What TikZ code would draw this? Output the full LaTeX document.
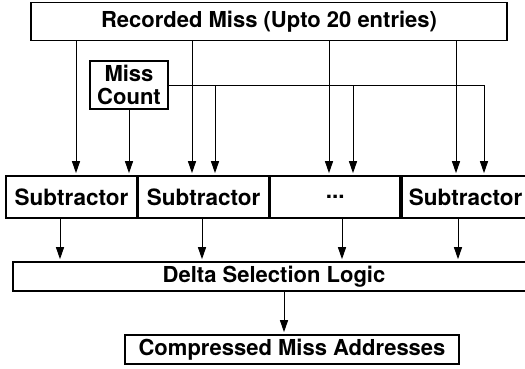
\documentclass[tikz,border=0pt]{standalone}
\usepackage{fontspec}
\setmainfont{TeX Gyre Heros}
\usetikzlibrary{arrows.meta}
\tikzset{
  blk/.style={draw, line width=1.6pt, inner sep=0pt, font=\bfseries\fontsize{22}{24}\selectfont, align=center},
  sub/.style={blk, minimum width=130pt, minimum height=42pt, font=\bfseries\fontsize{22.5}{24}\selectfont},
  arr/.style={line width=1pt, -{Triangle[width=8pt,length=12pt]}, shorten >=2pt}
}
\begin{document}
\begin{tikzpicture}[x=1pt,y=-1pt]
\clip (0,0) rectangle (525,368);
% memory of recorded misses
\node[blk, minimum width=476pt, minimum height=38pt] (top) at (269,21.5) {Recorded Miss (Upto 20 entries)};
\node[blk, minimum width=78pt, minimum height=48pt, font=\bfseries\fontsize{22}{23}\selectfont] (cnt) at (129,85) {Miss\\Count};
% row of subtractors
\node[sub, minimum width=131pt] (s1) at (71.5,197) {Subtractor};
\node[sub, anchor=west] (s2) at (s1.east) {Subtractor};
\node[sub, anchor=west] (s3) at (s2.east) {...};
\node[sub, anchor=west, minimum width=140pt, text width=130pt, align=left] (s4) at (s3.east) {\hspace*{2pt}Subtractor};
% selection and output
\node[blk, minimum width=522pt, minimum height=29pt] (delta) at (274,276.5) {Delta Selection Logic};
\node[blk, minimum width=334pt, minimum height=29pt] (out) at (292,349.5) {Compressed Miss Addresses};
% column positions of the input wires
\coordinate (a1) at (76,0);
\coordinate (a2) at (192,0);
\coordinate (a3) at (329,0);
\coordinate (a4) at (456,0);
\coordinate (b2) at (215,0);
\coordinate (b3) at (353,0);
\coordinate (b4) at (484,0);
\coordinate (o1) at (60,0);
\coordinate (o2) at (202,0);
\coordinate (o3) at (342,0);
\coordinate (o4) at (458,0);
% recorded misses to subtractors
\draw[arr] (a1 |- top.south) -- (a1 |- s1.north);
\draw[arr] (a2 |- top.south) -- (a2 |- s2.north);
\draw[arr] (a3 |- top.south) -- (a3 |- s3.north);
\draw[arr] (a4 |- top.south) -- (a4 |- s4.north);
% miss count to subtractors
\draw[arr] (cnt.south) -- (cnt.south |- s1.north);
\draw[arr] (cnt.east) -| (b4 |- s4.north);
\draw[arr] (b2 |- cnt.east) -- (b2 |- s2.north);
\draw[arr] (b3 |- cnt.east) -- (b3 |- s3.north);
% subtractors to selection logic
\draw[arr] (o1 |- s1.south) -- (o1 |- delta.north);
\draw[arr] (o2 |- s2.south) -- (o2 |- delta.north);
\draw[arr] (o3 |- s3.south) -- (o3 |- delta.north);
\draw[arr] (o4 |- s4.south) -- (o4 |- delta.north);
\draw[arr] (delta.south -| 284,0) -- (out.north -| 284,0);
\end{tikzpicture}
\end{document}
